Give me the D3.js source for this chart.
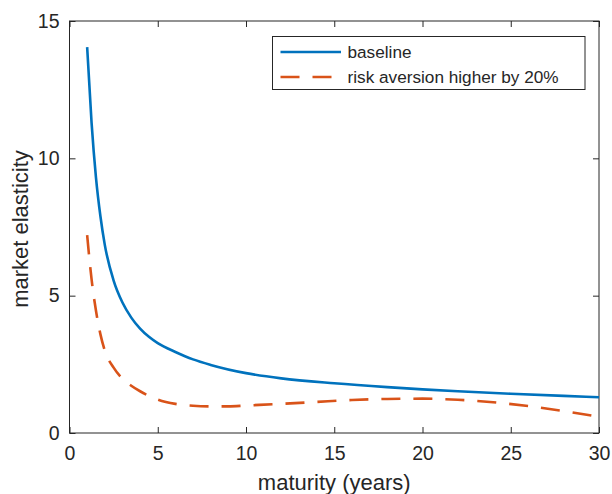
<!DOCTYPE html>
<html>
<head>
<meta charset="utf-8">
<script src="https://cdn.jsdelivr.net/npm/d3@7"></script>
<style>
  body { margin: 0; background: #fff; }
  text { font-family: "Liberation Sans", Arial, sans-serif; fill: #262626; }
</style>
</head>
<body>
<svg id="chart" width="612" height="494"></svg>
<script>
// values
var maturity = [1, 1.25, 1.5, 1.75, 2, 2.5, 3, 3.5, 4, 4.5, 5, 6, 7, 8, 10, 12, 15, 18, 20, 22, 25, 28, 30];
var baseline = [14.05, 11.3, 9.3, 7.9, 6.85, 5.55, 4.75, 4.2, 3.8, 3.5, 3.27, 2.95, 2.68, 2.48, 2.18, 1.99, 1.81, 1.67, 1.59, 1.52, 1.43, 1.35, 1.3];

var maturityRisk = [1, 1.25, 1.5, 1.75, 2, 2.5, 3, 3.5, 4, 5, 6, 7, 8, 9, 10, 12, 14, 16, 18, 20, 22, 24, 26, 28, 30];
var riskHigher = [7.2, 5.6, 4.45, 3.6, 3.0, 2.38, 1.98, 1.72, 1.52, 1.22, 1.06, 0.99, 0.97, 0.97, 1.0, 1.06, 1.13, 1.2, 1.24, 1.25, 1.21, 1.12, 0.98, 0.8, 0.59];

var xTicks = [0, 5, 10, 15, 20, 25, 30];
var yTicks = [0, 5, 10, 15];
var legendLabels = ["baseline", "risk aversion higher by 20%"];

var svg = d3.select("#chart");
var margin = { top: 21, right: 13, bottom: 61, left: 69.5 };
var width = 612 - margin.left - margin.right;
var height = 494 - margin.top - margin.bottom;

var g = svg.append("g").attr("transform", "translate(" + margin.left + "," + margin.top + ")");

var x = d3.scaleLinear().domain([0, 30]).range([0, width]);
var y = d3.scaleLinear().domain([0, 15]).range([height, 0]);

// axes, ticks pointing inward like matlab
var axisColor = "#262626";
var tickLen = 6;

function styleAxis(sel) {
  sel.select(".domain").remove();
  sel.selectAll(".tick line").attr("stroke", axisColor);
  sel.selectAll(".tick text").style("font-size", "19.5px").attr("fill", axisColor);
}

g.append("g")
  .attr("transform", "translate(0," + height + ")")
  .call(d3.axisBottom(x).tickValues(xTicks).tickSizeInner(-tickLen).tickSizeOuter(0).tickPadding(13))
  .call(styleAxis);

g.append("g")
  .call(d3.axisLeft(y).tickValues(yTicks).tickSizeInner(-tickLen).tickSizeOuter(0).tickPadding(10))
  .call(styleAxis);

g.append("g")
  .call(d3.axisTop(x).tickValues(xTicks).tickSizeInner(-tickLen).tickSizeOuter(0).tickFormat(""))
  .call(styleAxis);

g.append("g")
  .attr("transform", "translate(" + width + ",0)")
  .call(d3.axisRight(y).tickValues(yTicks).tickSizeInner(-tickLen).tickSizeOuter(0).tickFormat(""))
  .call(styleAxis);

g.append("rect")
  .attr("width", width)
  .attr("height", height)
  .attr("fill", "none")
  .attr("stroke", axisColor)
  .attr("stroke-width", 1);

// lines
var line = d3.line()
  .x(function(d) { return x(d[0]); })
  .y(function(d) { return y(d[1]); })
  .curve(d3.curveMonotoneX);

g.append("path")
  .datum(d3.zip(maturity, baseline))
  .attr("d", line)
  .attr("fill", "none")
  .attr("stroke", "#0072BD")
  .attr("stroke-width", 2.6);

g.append("path")
  .datum(d3.zip(maturityRisk, riskHigher))
  .attr("d", line)
  .attr("fill", "none")
  .attr("stroke", "#D95319")
  .attr("stroke-width", 2.6)
  .attr("stroke-dasharray", "19,13");

// axis labels
svg.append("text")
  .attr("x", margin.left + width / 2)
  .attr("y", 490)
  .attr("text-anchor", "middle")
  .style("font-size", "22px")
  .text("maturity (years)");

svg.append("text")
  .attr("transform", "translate(28," + (margin.top + height / 2 + 2) + ") rotate(-90)")
  .attr("text-anchor", "middle")
  .style("font-size", "22px")
  .text("market elasticity");

// legend
var legend = svg.append("g").attr("transform", "translate(272.5,36.5)");
legend.append("rect")
  .attr("width", 312.5)
  .attr("height", 53)
  .attr("fill", "#fff")
  .attr("stroke", axisColor)
  .attr("stroke-width", 1);

var colors = ["#0072BD", "#D95319"];
var dashes = [null, "19,13"];
legendLabels.forEach(function(lab, i) {
  var ly = 15.5 + i * 25;
  legend.append("line")
    .attr("x1", 8).attr("x2", 68.5)
    .attr("y1", ly).attr("y2", ly)
    .attr("stroke", colors[i])
    .attr("stroke-width", 2.6)
    .attr("stroke-dasharray", dashes[i]);
  legend.append("text")
    .attr("x", 75)
    .attr("y", ly + 6)
    .style("font-size", "17.2px")
    .text(lab);
});
</script>
</body>
</html>
